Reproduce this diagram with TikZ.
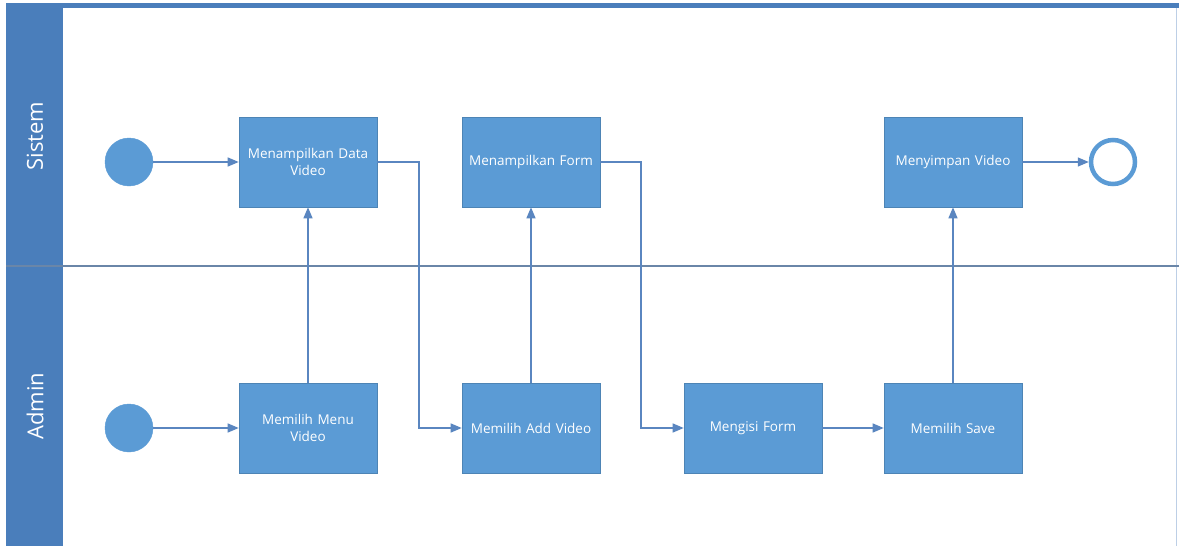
\documentclass[tikz,border=0pt]{standalone}
\usepackage{fontspec}
\setmainfont{Open Sans}
\usetikzlibrary{arrows.meta}
\definecolor{boxblue}{HTML}{5B9BD5}
\definecolor{lineblue}{HTML}{5A86C0}
\definecolor{bandblue}{HTML}{4A7EBB}
\definecolor{divgrey}{HTML}{6A86A8}
\tikzset{
  x=1pt,y=-1pt,
  task/.style={draw=boxblue!85!black,line width=0.6pt,fill=boxblue,text=white,minimum width=138pt,minimum height=90pt,align=center,text width=132pt,font=\fontsize{13.5}{17}\selectfont,inner sep=0pt},
  startev/.style={circle,fill=boxblue,draw=boxblue,minimum size=48pt,inner sep=0pt},
  endev/.style={circle,fill=white,draw=boxblue,line width=4.5pt,minimum size=44pt,inner sep=0pt},
  flow/.style={draw=lineblue,line width=1.3pt,-{Triangle[length=11pt,width=9pt]}},
  lanelabel/.style={text=white,rotate=90,font=\fontsize{22}{24}\selectfont},
}
\begin{document}
\begin{tikzpicture}
\useasboundingbox (0,0) rectangle (1179,546);
\fill[white] (0,0) rectangle (1179,546);
% pool frame
\draw[draw=lineblue!40,line width=1pt] (1176,8) -- (1176,546);
\fill[bandblue] (6,5) rectangle (63,546);
\fill[bandblue] (6,3) rectangle (1179,8);
\draw[divgrey,line width=1.3pt] (6,266) -- (1179,266);
\node[lanelabel] (lsis) at (35,136) {Sistem};
\node[lanelabel] (ladm) at (35,406) {Admin};
% nodes
\node[startev] (s1) at (129,162) {};
\node[startev] (s2) at (129,428) {};
\node[task] (t1) at (308,162) {Menampilkan Data\\Video};
\node[task] (t2) at (531,162) {Menampilkan Form};
\node[task] (t3) at (953,162) {Menyimpan Video};
\node[endev] (e1) at (1113,162) {};
\node[task] (a1) at (308,428) {Memilih Menu\\Video};
\node[task] (a2) at (531,428) {Memilih Add Video};
\node[task] (a3) at (753,428) {Mengisi Form};
\node[task] (a4) at (953,428) {Memilih Save};
% flows
\draw[flow] (s1) -- (t1);
\draw[flow] (s2) -- (a1);
\draw[flow] (a1) -- (t1);
\draw[flow] (t1.east) -- (419,162) -- (419,428) -- (a2.west);
\draw[flow] (a2) -- (t2);
\draw[flow] (t2.east) -- (641,162) -- (641,428) -- (a3.west);
\draw[flow] (a3) -- (a4);
\draw[flow] (a4) -- (t3);
\draw[flow] (t3) -- (e1);
\end{tikzpicture}
\end{document}
